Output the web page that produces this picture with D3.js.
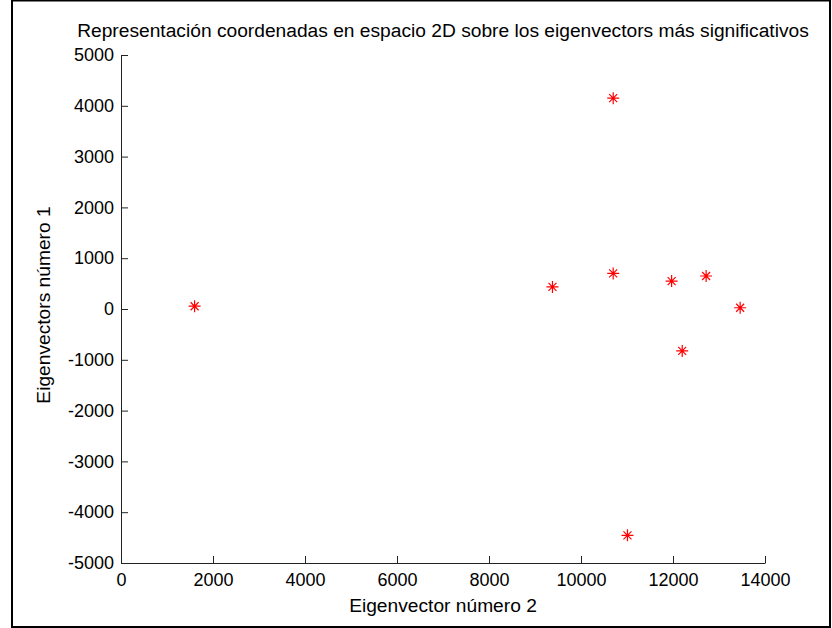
<!DOCTYPE html>
<html>
<head>
<meta charset="utf-8">
<script src="https://cdn.jsdelivr.net/npm/d3@7"></script>
<style>
  html, body { margin: 0; padding: 0; background: #fff; }
  svg text { font-family: "Liberation Sans", Arial, sans-serif; fill: #000; }
</style>
</head>
<body>
<div id="chart"></div>
<script>
const title = 'Representación coordenadas en espacio 2D sobre los eigenvectors más significativos'
const xLabel = 'Eigenvector número 2'
const yLabel = 'Eigenvectors número 1'

// eigenvector 2 (x) and eigenvector 1 (y) coordinates
const xValues = [1600, 9380, 10700, 10700, 11970, 12200, 12720, 13460, 11010]
const yValues = [55, 435, 4150, 700, 550, -825, 650, 25, -4455]

const xTicks = [0, 2000, 4000, 6000, 8000, 10000, 12000, 14000]
const yTicks = [-5000, -4000, -3000, -2000, -1000, 0, 1000, 2000, 3000, 4000, 5000]

const W = 832, H = 628
const margin = {top: 55, right: 67, bottom: 65, left: 121}
const TICK_FONT = 18
const LABEL_FONT = 19.2
const TICK = 7

const svg = d3.select('#chart').append('svg')
  .attr('width', W).attr('height', H)

// figure frame
svg.append('rect')
  .attr('x', 12).attr('y', 0.5).attr('width', 818).attr('height', 626.5)
  .attr('fill', 'none').attr('stroke', '#000').attr('stroke-width', 2)

const x = d3.scaleLinear().domain([0, 14000]).range([margin.left, W - margin.right])
const y = d3.scaleLinear().domain([-5000, 5000]).range([H - margin.bottom, margin.top])

const xAxis = svg.append('g')
  .attr('transform', `translate(0,${y(-5000)})`)
  .call(d3.axisBottom(x).tickValues(xTicks).tickFormat(d => String(d)).tickSizeInner(-TICK).tickSizeOuter(0).tickPadding(10))
const yAxis = svg.append('g')
  .attr('transform', `translate(${x(0)},0)`)
  .call(d3.axisLeft(y).tickValues(yTicks).tickFormat(d => String(d)).tickSizeInner(-TICK).tickSizeOuter(0).tickPadding(7))

;[xAxis, yAxis].forEach(g => {
  g.selectAll('.domain').attr('stroke', '#222').attr('stroke-width', 1)
  g.selectAll('.tick line').attr('stroke', '#222').attr('stroke-width', 1)
  g.selectAll('.tick text').attr('font-size', TICK_FONT).attr('fill', '#000')
  g.attr('font-family', null).attr('font-size', null)
})

// title and axis labels
svg.append('text')
  .attr('x', (x(0) + x(14000)) / 2).attr('y', 37)
  .attr('text-anchor', 'middle').attr('font-size', LABEL_FONT)
  .text(title)

svg.append('text')
  .attr('x', (x(0) + x(14000)) / 2).attr('y', 612)
  .attr('text-anchor', 'middle').attr('font-size', LABEL_FONT)
  .text(xLabel)

svg.append('text')
  .attr('transform', `translate(50,${(y(5000) + y(-5000)) / 2 - 4}) rotate(-90)`)
  .attr('text-anchor', 'middle').attr('font-size', LABEL_FONT)
  .text(yLabel)

// asterisk markers
const points = xValues.map((v, i) => ({x: v, y: yValues[i]}))
const R = 6, D = 4
const star = `M${-R},0L${R},0M0,${-R}L0,${R}M${-D},${-D}L${D},${D}M${-D},${D}L${D},${-D}`

svg.append('g')
  .selectAll('path')
  .data(points)
  .join('path')
  .attr('transform', d => `translate(${x(d.x)},${y(d.y)})`)
  .attr('d', star)
  .attr('fill', 'none')
  .attr('stroke', '#ff0000')
  .attr('stroke-width', 1.2)
</script>
</body>
</html>
